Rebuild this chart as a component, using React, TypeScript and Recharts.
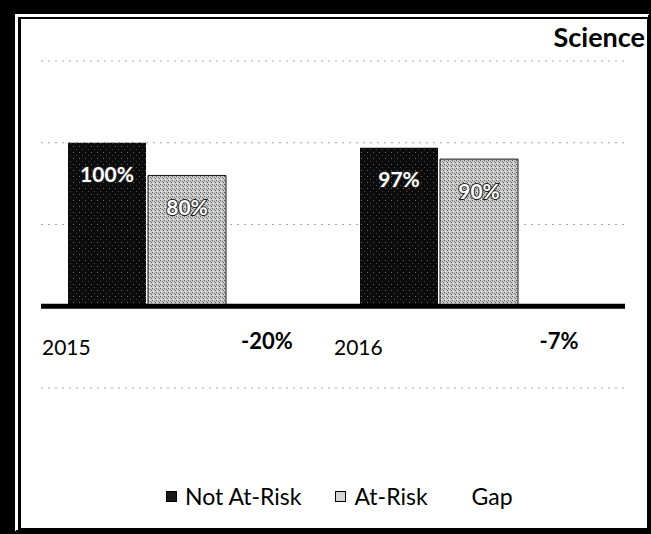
import { Bar, BarChart, CartesianGrid, LabelList, Legend, ReferenceLine, XAxis, YAxis } from "recharts";

const years = ["2015", "2016"];
const notAtRisk = [100, 97];
const atRisk = [80, 90];
const gap = [-20, -7];
const yTicks = [-50, 0, 50, 100, 150];
const seriesNames = ["Not At-Risk", "At-Risk", "Gap"];

const FONT = "Lato, 'Open Sans', sans-serif";

const data = years.map((year, i) => ({
  year,
  notAtRisk: notAtRisk[i],
  atRisk: atRisk[i],
  gap: gap[i],
}));

const legendColors: Record<string, string> = {
  "Not At-Risk": "#1a1a1a",
  "At-Risk": "#d6d6d6",
  Gap: "transparent",
};

// white % label sitting a little below the top of each bar
function InsideLabel(props: any) {
  const { x, y, width, value } = props;
  return (
    <text
      x={x + width / 2}
      y={y + 31}
      textAnchor="middle"
      dominantBaseline="central"
      fill="#fff"
      stroke="#222"
      strokeWidth={2}
      paintOrder="stroke"
      fontFamily={FONT}
      fontSize={21}
      fontWeight={700}
    >
      {value}%
    </text>
  );
}

// gap value under the baseline, centred on the (invisible) gap bar
function GapLabel(props: any) {
  const { x, y, width, height, value } = props;
  const base = Math.min(y, y + height);
  return (
    <text
      x={x + width / 2}
      y={base + 34}
      textAnchor="middle"
      dominantBaseline="central"
      fill="#000"
      fontFamily={FONT}
      fontSize={22}
      fontWeight={700}
    >
      {value}%
    </text>
  );
}

function YearTick(props: any) {
  const { x, y, payload } = props;
  return (
    <text x={x - 145} y={y} dy={-41} textAnchor="start" fill="#000" fontFamily={FONT} fontSize={21}>
      {payload.value}
    </text>
  );
}

function LegendRow(props: any) {
  const { payload = [] } = props;
  const items = seriesNames.map((n) => payload.find((p: any) => p.value === n)).filter(Boolean);
  return (
    <div style={{ display: "flex", alignItems: "center", height: 30, fontFamily: FONT, fontSize: 23 }}>
      {items.map((p: any) => (
        <div key={p.value} style={{ display: "flex", alignItems: "center", marginRight: p.value === "At-Risk" ? 25 : 34 }}>
          <span
            style={{
              display: "inline-block",
              width: 9,
              height: 9,
              marginRight: 8,
              background: legendColors[p.value],
              border: p.value === "Gap" ? "1px solid transparent" : "1px solid #000",
            }}
          />
          <span style={{ color: "#000" }}>{p.value}</span>
        </div>
      ))}
    </div>
  );
}

export default function App() {
  return (
    <div style={{ position: "absolute", left: 0, top: 0, width: 651, height: 534, background: "#000" }}>
      <div
        style={{
          position: "absolute",
          left: 12,
          top: 12,
          width: 638,
          height: 521,
          boxSizing: "border-box",
          background: "#fff",
          borderLeft: "9px double #000",
          borderTop: "7px double #000",
          borderRight: "3px solid #000",
          borderBottom: "5px solid #000",
        }}
      />
      <div
        style={{
          position: "absolute",
          right: 6,
          top: 20,
          fontFamily: FONT,
          fontSize: 27,
          fontWeight: 700,
          color: "#000",
        }}
      >
        Science
      </div>
      <div style={{ position: "absolute", left: 0, top: 0 }}>
        <BarChart
          width={651}
          height={534}
          data={data}
          margin={{ top: 61, right: 26, bottom: 86, left: 41 }}
          barCategoryGap={27}
          barGap={2}
        >
          <defs>
            <pattern id="darkTex" width="6" height="6" patternUnits="userSpaceOnUse">
              <rect width="6" height="6" fill="#0c0c0c" />
              <rect x="1" y="2" width="1" height="1" fill="#666" />
              <rect x="4" y="5" width="1" height="1" fill="#444" />
            </pattern>
            <pattern id="lightTex" width="4" height="4" patternUnits="userSpaceOnUse">
              <rect width="4" height="4" fill="#c8c8c8" />
              <rect x="0" y="0" width="1" height="1" fill="#5a5a5a" />
              <rect x="2" y="1" width="1" height="1" fill="#7a7a7a" />
              <rect x="1" y="3" width="1" height="1" fill="#f4f4f4" />
              <rect x="3" y="2" width="1" height="1" fill="#6a6a6a" />
            </pattern>
          </defs>
          <CartesianGrid vertical={false} stroke="#a8a8a8" strokeDasharray="2 5" />
          <XAxis dataKey="year" axisLine={false} tickLine={false} height={30} tick={<YearTick />} />
          <YAxis hide domain={[-50, 150]} ticks={yTicks} />
          <Legend
            verticalAlign="bottom"
            content={<LegendRow />}
            wrapperStyle={{ top: 481, left: 166, bottom: "auto", width: 440 }}
          />
          <Bar dataKey="notAtRisk" name="Not At-Risk" fill="url(#darkTex)" isAnimationActive={false}>
            <LabelList dataKey="notAtRisk" content={<InsideLabel />} />
          </Bar>
          <Bar
            dataKey="atRisk"
            name="At-Risk"
            fill="url(#lightTex)"
            stroke="#111"
            strokeWidth={1}
            isAnimationActive={false}
          >
            <LabelList dataKey="atRisk" content={<InsideLabel />} />
          </Bar>
          <Bar dataKey="gap" name="Gap" fill="transparent" isAnimationActive={false}>
            <LabelList dataKey="gap" content={<GapLabel />} />
          </Bar>
          <ReferenceLine y={0} stroke="#000" strokeWidth={5} />
        </BarChart>
      </div>
    </div>
  );
}
